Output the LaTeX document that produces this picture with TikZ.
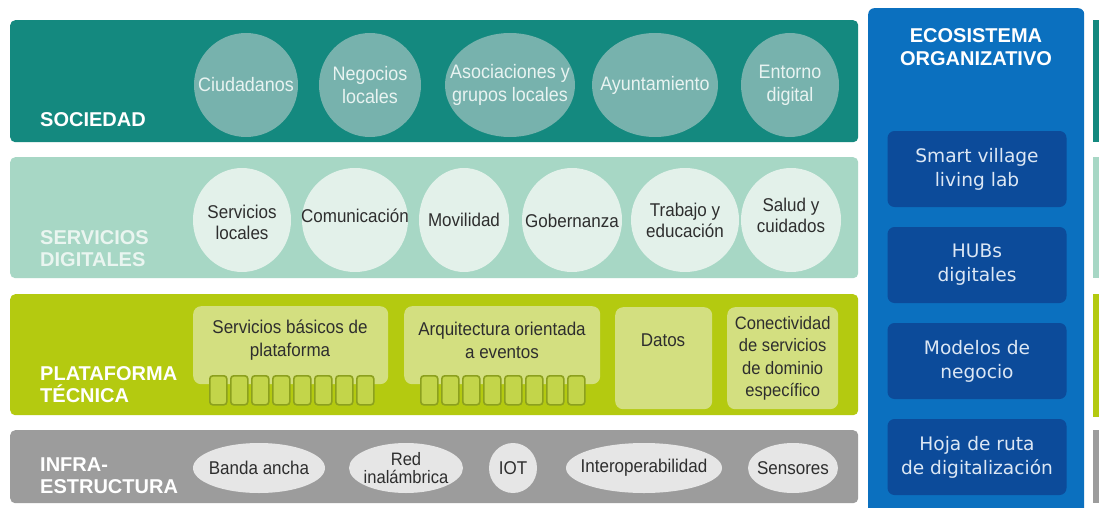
\documentclass[tikz,border=0pt]{standalone}
\usepackage{fontspec}
\setmainfont{Liberation Sans}
\newfontfamily\cond[FakeStretch=0.92]{Liberation Sans}
\newfontfamily\dvs{DejaVu Sans}
\usetikzlibrary{shapes.geometric}
\definecolor{cTeal}{HTML}{14897F}
\definecolor{cTealC}{HTML}{77B2AD}
\definecolor{cTealT}{HTML}{E8F3F1}
\definecolor{cMint}{HTML}{A7D7C5}
\definecolor{cMintC}{HTML}{E3F1EA}
\definecolor{cMintT}{HTML}{EAF5F0}
\definecolor{cLime}{HTML}{B4CA10}
\definecolor{cLimeB}{HTML}{D3DF80}
\definecolor{cLimeS}{HTML}{C3D54A}
\definecolor{cLimeE}{HTML}{8CA01E}
\definecolor{cGray}{HTML}{9C9C9C}
\definecolor{cGrayE}{HTML}{E6E6E6}
\definecolor{cBlue}{HTML}{0B70BF}
\definecolor{cBlueD}{HTML}{0C4B9A}
\definecolor{cBlueT}{HTML}{DCE7F4}
\definecolor{cDark}{HTML}{2E2E2E}
\begin{document}
\begin{tikzpicture}[x=1pt,y=-1pt,
  band/.style={rectangle, rounded corners=5pt, anchor=north west, inner sep=0, minimum width=848pt},
  strip/.style={rectangle, anchor=north west, inner sep=0, minimum width=10pt},
  lbl/.style={anchor=base west, inner sep=0, text=white, font=\fontsize{20}{22}\selectfont\bfseries},
  soccirc/.style={ellipse, fill=cTealC, inner sep=0, minimum height=104pt},
  soctext/.style={align=center, text=cTealT, inner sep=0, font=\cond\fontsize{19.5}{23}\selectfont},
  sercirc/.style={ellipse, fill=cMintC, inner sep=0, minimum height=104pt},
  sertext/.style={align=center, text=cDark, inner sep=0, font=\cond\fontsize{18.5}{21}\selectfont},
  plabox/.style={rectangle, rounded corners=8pt, fill=cLimeB, anchor=north west, inner sep=0},
  platext/.style={align=center, text=cDark, inner sep=0, font=\cond\fontsize{18.5}{23}\selectfont},
  sbox/.style={rectangle, rounded corners=3pt, draw=cLimeE, line width=1.6pt, fill=cLimeS, anchor=north west, inner sep=0, minimum width=17pt, minimum height=29pt},
  infell/.style={ellipse, fill=cGrayE, inner sep=0, minimum height=50pt},
  inftext/.style={align=center, text=cDark, inner sep=0, font=\cond\fontsize{18.5}{16}\selectfont},
  ecot/.style={anchor=base, inner sep=0, text=white, font=\fontsize{20}{22}\selectfont\bfseries},
  bbox/.style={rectangle, rounded corners=7pt, fill=cBlueD, text=cBlueT, align=center, inner sep=0, minimum width=179pt, minimum height=76pt, font=\dvs\fontsize{18.6}{24}\selectfont}
]
\useasboundingbox (0,0) rectangle (1099,508);
\fill[white] (0,0) rectangle (1099,508);

% bands
\node[band, fill=cTeal, minimum height=122pt] (soc) at (10,20) {};
\node[band, fill=cMint, minimum height=121pt] (ser) at (10,157) {};
\node[band, fill=cLime, minimum height=121pt] (pla) at (10,294) {};
\node[band, fill=cGray, minimum height=73pt] (inf) at (10,430) {};

% right strips
\node[strip, fill=cTeal, minimum height=122pt] (rs1) at (1093,20) {};
\node[strip, fill=cMint, minimum height=121pt] (rs2) at (1093,157) {};
\node[strip, fill=cLime, minimum height=123pt] (rs3) at (1093,294) {};
\node[strip, fill=cGray, minimum height=73pt] (rs4) at (1093,430) {};

% band labels
\node[lbl] (l1) at (40,127) {SOCIEDAD};
\node[lbl, text=cMintT] (l2a) at (40,244) {SERVICIOS};
\node[lbl, text=cMintT] (l2b) at (40,266) {DIGITALES};
\node[lbl] (l3a) at (40,380) {PLATAFORMA};
\node[lbl] (l3b) at (40,402) {TÉCNICA};
\node[lbl] (l4a) at (40,471) {INFRA-};
\node[lbl] (l4b) at (40,493) {ESTRUCTURA};

% sociedad
\node[soccirc, minimum width=104pt] (c1) at (246,85) {};
\node[soccirc, minimum width=102pt] (c2) at (370,85) {};
\node[soccirc, minimum width=130pt] (c3) at (510,85) {};
\node[soccirc, minimum width=126pt] (c4) at (655,85) {};
\node[soccirc, minimum width=98pt] (c5) at (790,85) {};
\node[soctext] (t1) at (c1) {Ciudadanos};
\node[soctext] (t2) at (c2) {Negocios\\locales};
\node[soctext] (t3) at (c3) {Asociaciones y\\grupos locales};
\node[soctext] (t4) at (c4) {Ayuntamiento};
\node[soctext] (t5) at (c5) {Entorno\\digital};

% servicios digitales
\node[sercirc, minimum width=98pt] (s1) at (242,220) {};
\node[sercirc, minimum width=106pt] (s2) at (355,220) {};
\node[sercirc, minimum width=90pt] (s3) at (464,220) {};
\node[sercirc, minimum width=100pt] (s4) at (572,220) {};
\node[sercirc, minimum width=108pt] (s5) at (685,220) {};
\node[sercirc, minimum width=100pt] (s6) at (791,220) {};
\node[sertext] (u1) at ([yshift=-2pt]s1) {Servicios\\locales};
\node[sertext] (u2) at ([yshift=4pt]s2) {Comunicación};
\node[sertext] (u3) at (s3) {Movilidad};
\node[sertext] (u4) at ([yshift=-1pt]s4) {Gobernanza};
\node[sertext] (u5) at (s5) {Trabajo y\\educación};
\node[sertext] (u6) at ([yshift=5pt]s6) {Salud y\\cuidados};

% plataforma tecnica
\node[plabox, minimum width=195pt, minimum height=78pt] (p1) at (193,306) {};
\node[plabox, minimum width=196pt, minimum height=78pt] (p2) at (404,306) {};
\node[plabox, minimum width=97pt, minimum height=102pt] (p3) at (615,307) {};
\node[plabox, minimum width=111pt, minimum height=102pt] (p4) at (727,307) {};
\foreach \i in {0,...,7} {
  \node[sbox] (qa\i) at (209+\i*21,375) {};
  \node[sbox] (qb\i) at (420+\i*21,375) {};
}
\node[platext] (v1) at (290,340) {Servicios básicos de\\plataforma};
\node[platext] (v2) at (502,340) {Arquitectura orientada\\a eventos};
\node[platext] (v3) at (663,340) {Datos};
\node[platext, font=\cond\fontsize{18}{22.5}\selectfont] (v4) at (p4.center) {Conectividad\\de servicios\\de dominio\\específico};

% infraestructura
\node[infell, minimum width=132pt] (e1) at (259,468) {};
\node[infell, minimum width=114pt] (e2) at (406,468) {};
\node[infell, minimum width=48pt] (e3) at (513,468) {};
\node[infell, minimum width=156pt] (e4) at (644,468) {};
\node[infell, minimum width=90pt] (e5) at (793,468) {};
\node[inftext] (w1) at (e1) {Banda ancha};
\node[inftext, font=\cond\fontsize{18}{18}\selectfont] (w2) at (e2) {Red\\inalámbrica};
\node[inftext] (w3) at (e3) {IOT};
\node[inftext] (w4) at (e4) {Interoperabilidad};
\node[inftext] (w5) at (e5) {Sensores};

% ecosistema organizativo
\node[rectangle, rounded corners=6pt, fill=cBlue, anchor=north west, inner sep=0, minimum width=216pt, minimum height=515pt] (eco) at (868,8) {};
\node[ecot] (et1) at (976,43) {ECOSISTEMA};
\node[ecot] (et2) at (976,66) {ORGANIZATIVO};
\node[bbox] (b1) at (977,169) {Smart village\\living lab};
\node[bbox] (b2) at (977,265) {HUBs\\digitales};
\node[bbox] (b3) at (977,361) {Modelos de\\negocio};
\node[bbox] (b4) at (977,457) {Hoja de ruta\\de digitalización};
\end{tikzpicture}
\end{document}
